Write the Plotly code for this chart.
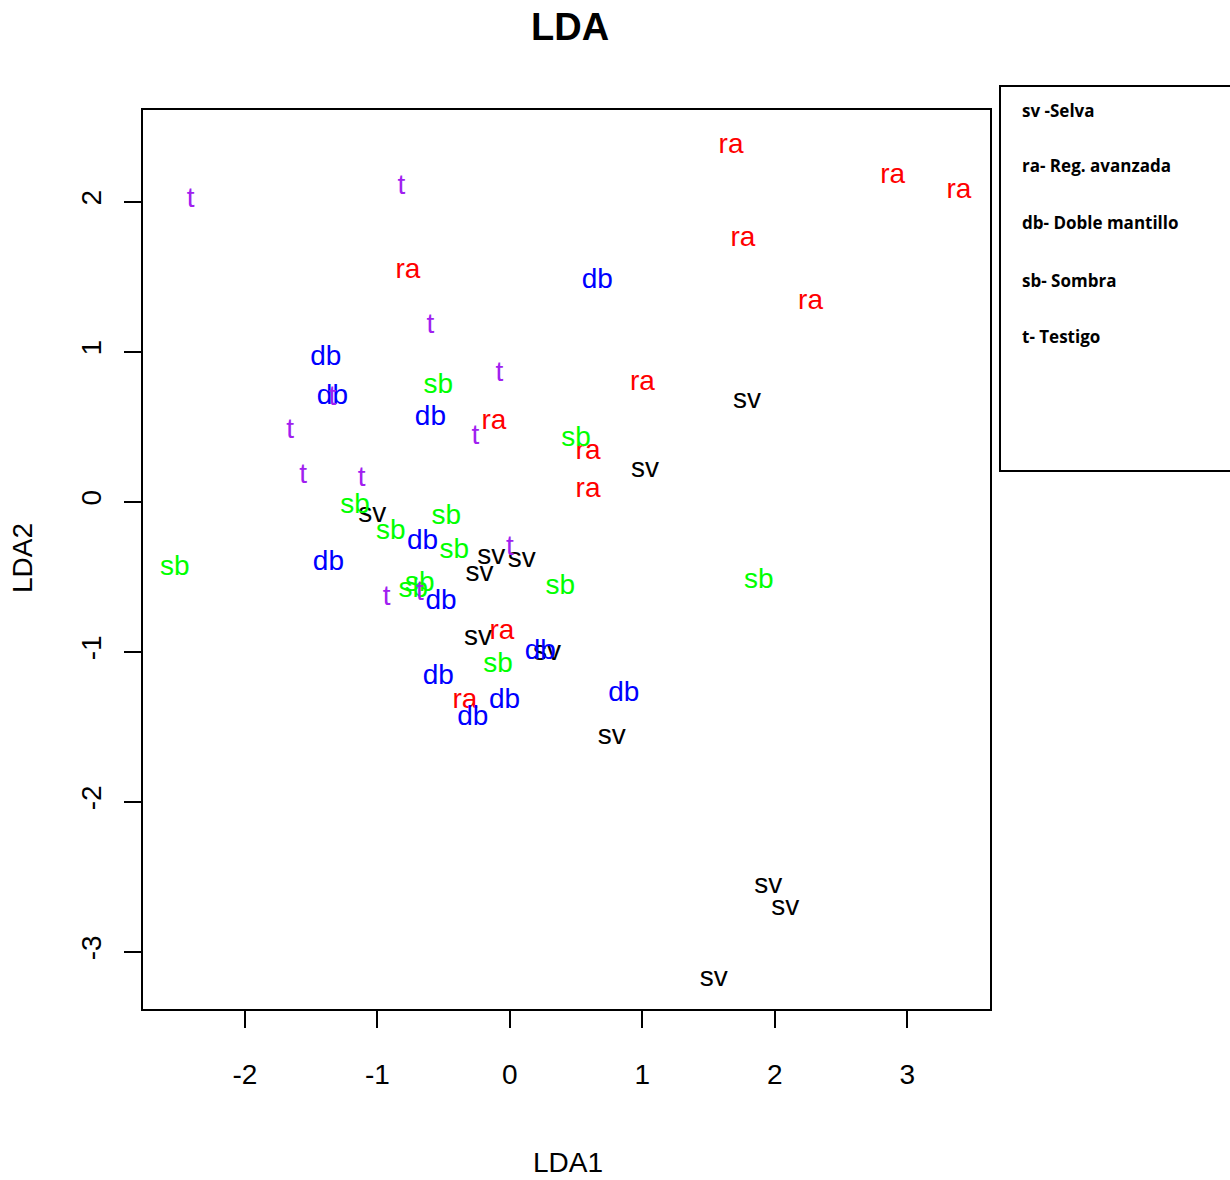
import plotly.graph_objects as go

# Class labels and LDA coordinates
sv_x = [1.79, 1.02, -1.04, -0.14, 0.09, -0.23, -0.24, 0.28, 0.77, 1.95, 2.08, 1.54]
sv_y = [0.67, 0.21, -0.09, -0.37, -0.39, -0.48, -0.91, -1.01, -1.57, -2.56, -2.71, -3.18]

ra_x = [1.67, 2.89, 3.39, 1.76, -0.77, 2.27, 1.00, -0.12, 0.59, 0.59, -0.06, -0.34]
ra_y = [2.37, 2.17, 2.07, 1.75, 1.54, 1.33, 0.79, 0.53, 0.33, 0.08, -0.87, -1.33]

db_x = [0.66, -1.39, -1.34, -0.60, -1.37, -0.66, -0.52, 0.23, -0.54, -0.04, -0.28, 0.86]
db_y = [1.47, 0.96, 0.70, 0.56, -0.41, -0.27, -0.67, -1.00, -1.17, -1.33, -1.44, -1.28]

sb_x = [-0.54, 0.50, -1.17, -0.48, -0.90, -0.42, -2.53, 1.88, 0.38, -0.73, -0.68, -0.09]
sb_y = [0.77, 0.42, -0.03, -0.10, -0.20, -0.33, -0.44, -0.53, -0.57, -0.59, -0.55, -1.09]

t_x = [-2.41, -0.82, -0.60, -0.08, -1.34, -1.66, -0.26, -1.56, -1.12, 0.00, -0.93, -0.68]
t_y = [2.01, 2.10, 1.17, 0.85, 0.69, 0.47, 0.43, 0.17, 0.15, -0.31, -0.64, -0.61]

groups = [
    ("sv", sv_x, sv_y, "#000000"),
    ("ra", ra_x, ra_y, "#FF0000"),
    ("db", db_x, db_y, "#0000FF"),
    ("sb", sb_x, sb_y, "#00FF00"),
    ("t", t_x, t_y, "#A020F0"),
]

legend_lines = ["sv -Selva", "ra- Reg. avanzada", "db- Doble mantillo", "sb- Sombra", "t- Testigo"]

x_ticks = [-2, -1, 0, 1, 2, 3]
y_ticks = [-3, -2, -1, 0, 1, 2]

fig = go.Figure()
for name, xs, ys, col in groups:
    fig.add_trace(go.Scatter(
        x=xs, y=ys, mode="text", text=[name] * len(xs),
        textposition="middle center",
        textfont=dict(family="Liberation Sans, Arial, sans-serif", size=28, color=col),
        showlegend=False, hoverinfo="skip"))

W, H = 1230, 1180
L, R, T, B = 143, 990, 110, 1009
pw, ph = R - L, B - T

def px(xp):
    return (xp - L) / pw

def py(yp):
    return (B - yp) / ph

axis_common = dict(
    showgrid=False, zeroline=False, showline=True, linecolor="black", linewidth=1.5,
    mirror=True, ticks="outside", ticklen=17, tickwidth=1.5, tickcolor="black",
    tickfont=dict(family="Liberation Sans, Arial, sans-serif", size=28, color="black"),
)

fig.update_layout(
    width=W, height=H,
    margin=dict(l=L, r=W - R, t=T, b=H - B, pad=0),
    paper_bgcolor="white", plot_bgcolor="white",
    xaxis=dict(range=[-2.77, 3.625], tickvals=x_ticks, ticktext=[str(v) for v in x_ticks],
               ticklabelstandoff=23, **axis_common),
    yaxis=dict(range=[-3.38, 2.613], tickvals=y_ticks, ticktext=[str(v) for v in y_ticks],
               tickangle=-90, ticklabelstandoff=12, **axis_common),
)

ann = []
ann.append(dict(text="<b>LDA</b>", x=px(570), y=py(27), xref="paper", yref="paper",
                showarrow=False, xanchor="center", yanchor="middle",
                font=dict(family="Liberation Sans Narrow, Arial Narrow, sans-serif", size=38, color="black")))
ann.append(dict(text="LDA1", x=px(568), y=py(1162), xref="paper", yref="paper",
                showarrow=False, xanchor="center", yanchor="middle",
                font=dict(family="Liberation Sans, Arial, sans-serif", size=28, color="black")))
ann.append(dict(text="LDA2", x=px(22), y=py(558), xref="paper", yref="paper",
                showarrow=False, xanchor="center", yanchor="middle", textangle=-90,
                font=dict(family="Liberation Sans, Arial, sans-serif", size=28, color="black")))

leg_y = [110, 166, 223, 280, 336]
for txt, yy in zip(legend_lines, leg_y):
    ann.append(dict(text="<b>" + txt + "</b>", x=px(1020), y=py(yy), xref="paper", yref="paper",
                    showarrow=False, xanchor="left", yanchor="middle",
                    font=dict(family="Open Sans, Noto Sans, sans-serif", size=17, color="black")))
fig.update_layout(annotations=ann)

fig.add_shape(type="rect", xref="paper", yref="paper",
              x0=px(1000), x1=px(1240), y0=py(471), y1=py(86),
              line=dict(color="black", width=2), fillcolor="rgba(0,0,0,0)")

fig.write_html("out.html", config={"displayModeBar": False},
               post_script="document.body.style.margin='0';document.body.style.padding='0';")
